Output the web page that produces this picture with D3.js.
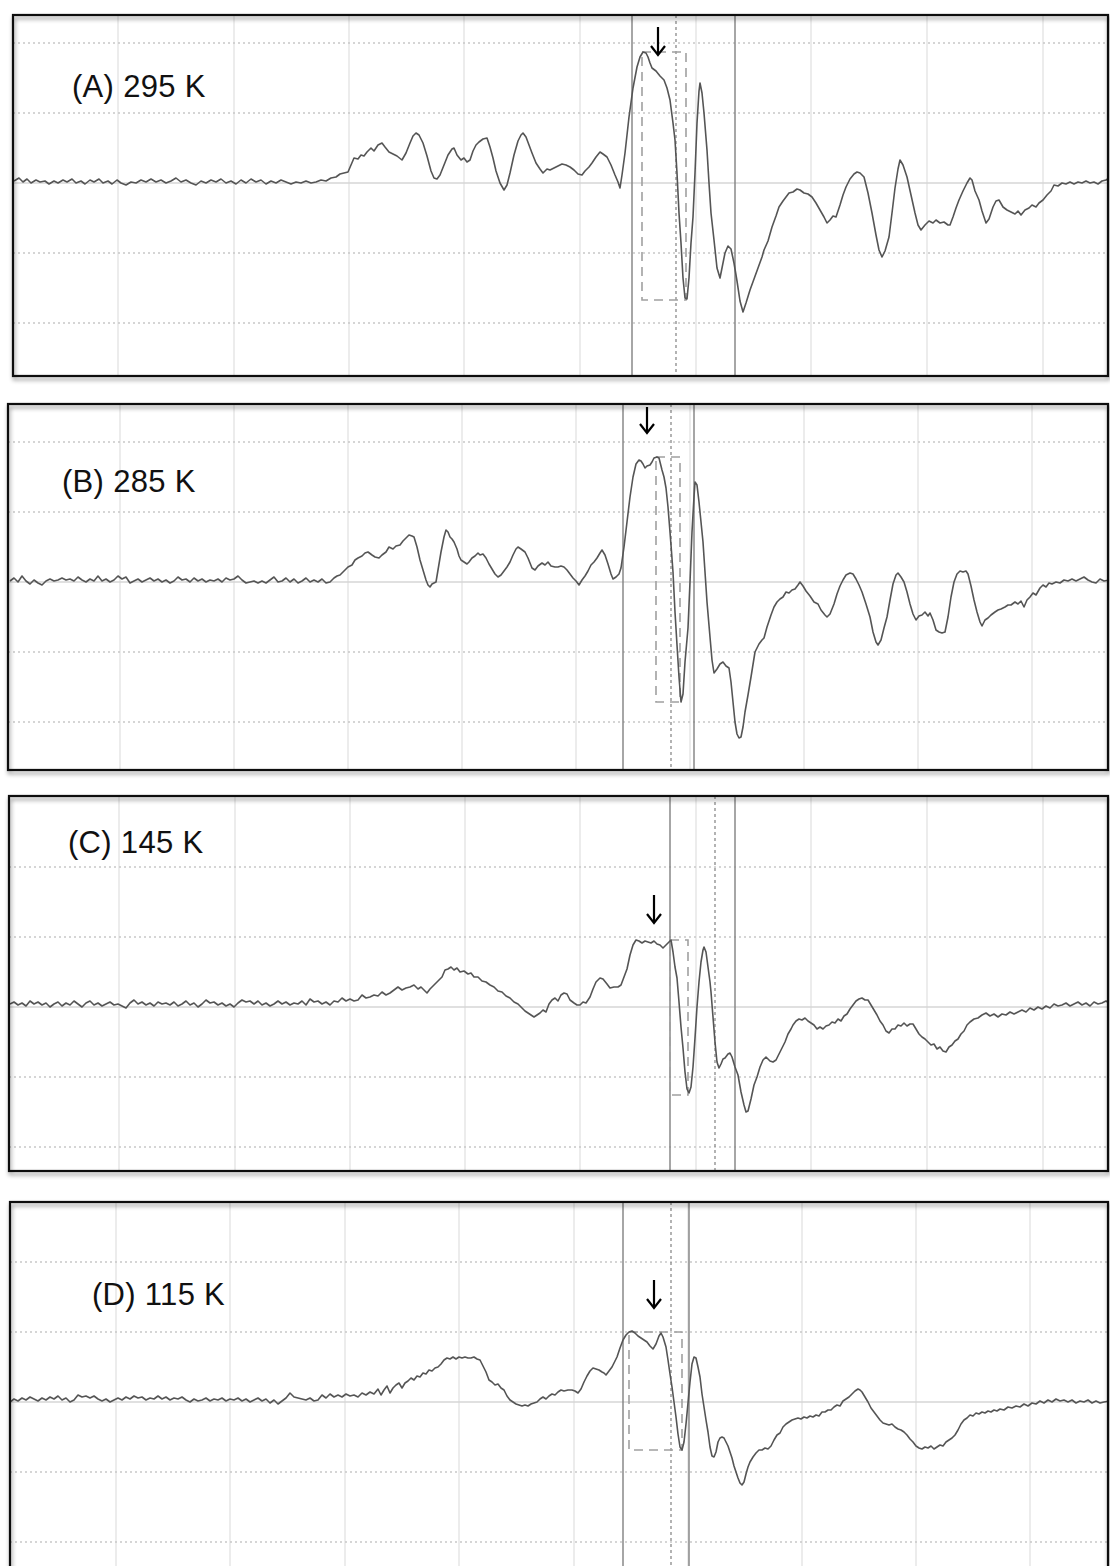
<!DOCTYPE html>
<html>
<head>
<meta charset="utf-8">
<script src="https://cdn.jsdelivr.net/npm/d3@7"></script>
<style>
  html, body { margin: 0; padding: 0; background: #fff; }
  svg { display: block; }
  .label { font-family: "Liberation Sans", Arial, sans-serif; font-size: 31px; fill: #111; letter-spacing: 0.3px; }
</style>
</head>
<body>
<svg id="chart" width="1110" height="1566"></svg>
<script>
// panel labels
const labels = ["(A) 295 K", "(B) 285 K", "(C) 145 K", "(D) 115 K"];

// spectra: [field channel, signal (a.u.)]
const traceA = [[14,2],[19,5],[23,1],[27,4],[31,0],[36,3],[40,1],[45,2],[49,-1],[54,2],[58,0],[63,3],[67,1],[72,4],[76,0],[81,2],[85,-1],[90,3],[94,1],[99,4],[103,0],[108,2],[112,-1],[117,3],[121,0],[126,-2],[131,1],[136,0],[141,3],[146,1],[151,4],[156,1],[161,3],[166,0],[171,2],[176,5],[181,1],[186,3],[191,0],[196,-2],[201,2],[206,0],[211,3],[216,1],[221,4],[226,0],[231,2],[236,-1],[241,3],[246,0],[251,4],[256,1],[261,3],[266,-1],[271,2],[276,0],[281,3],[286,1],[291,-1],[296,1],[301,0],[306,2],[311,0],[316,1],[321,3],[326,2],[331,5],[336,6],
  [340,9],[344,10],[348,11],[351,18],[354,25],[358,24],[361,28],[364,27],[367,31],[371,35],[374,32],[378,38],[382,40],[385,36],[389,31],[393,29],[397,27],[402,23],[406,30],[410,40],[413,47],[416,50],[419,48],[423,40],[427,27],[431,12],[434,5],[437,4],[440,8],[444,18],[448,28],[452,34],[454,35],[457,28],[461,23],[464,25],[467,21],[470,23],[473,32],[476,38],[479,41],[483,44],[487,45],[490,36],[493,25],[496,12],[500,0],[504,-7],[507,-2],[510,10],[514,28],[518,42],[521,48],[523,50],[526,46],[529,38],[532,30],[536,20],[540,14],[543,10],[547,14],[550,13],[554,15],[558,17],[562,19],[566,18],[570,16],[574,13],[578,9],[582,8],[585,12],[589,16],[592,20],[596,26],[600,31],[603,29],[607,26],[611,18],[615,8],[618,1],[620,-5],[622,8],[625,30],[629,66],[633,95],[637,116],[640,126],[643,131],[646,130],[648,126],[650,120],[652,115],[656,112],[660,107],[664,103],[667,95],[670,83],[673,60],[675,43],[677,10],[679,-30],[681,-60],[683,-95],[685,-115],[687,-116],[689,-95],[691,-60],[693,-34],[695,10],[697,60],[699,92],[700,100],[702,90],[704,70],[707,33],[709,0],[711,-30],[714,-57],[717,-85],[720,-95],[722,-85],[725,-70],[728,-63],[731,-66],[734,-80],[737,-98],[740,-118],[743,-129],[746,-120],[750,-107],[754,-96],[758,-85],[762,-74],[764,-67],[768,-58],[772,-44],[776,-33],[779,-24],[783,-18],[786,-14],[789,-10],[793,-9],[797,-6],[800,-7],[804,-10],[808,-11],[812,-14],[816,-20],[820,-27],[824,-34],[827,-40],[830,-37],[833,-33],[836,-34],[840,-22],[843,-12],[846,-4],[850,4],[854,9],[857,11],[860,10],[864,6],[868,-10],[872,-30],[876,-52],[879,-67],[882,-74],[885,-68],[889,-54],[892,-30],[895,-5],[898,14],[900,23],[903,18],[907,6],[911,-12],[915,-30],[918,-42],[921,-47],[925,-42],[929,-38],[933,-40],[936,-37],[940,-40],[944,-39],[948,-42],[950,-42],[953,-34],[956,-25],[959,-17],[963,-8],[967,0],[970,5],[972,3],[975,-8],[979,-17],[982,-28],[986,-40],[989,-36],[993,-24],[996,-18],[999,-17],[1003,-24],[1007,-27],[1011,-29],[1015,-31],[1018,-28],[1021,-32],[1025,-27],[1029,-25],[1032,-22],[1036,-24],[1039,-20],[1043,-17],[1047,-12],[1051,-8],[1054,-2],[1058,-3],[1062,0],[1066,-1],[1070,1],[1074,-1],[1078,1],[1082,0],[1086,2],[1090,0],[1094,1],[1098,-1],[1102,2],[1106,3],[1109,5]];

const traceB = [[10,1],[14,4],[18,0],[22,6],[26,1],[30,-2],[34,2],[38,-1],[42,-3],[46,1],[50,3],[54,1],[58,2],[62,4],[66,2],[70,3],[74,1],[78,5],[82,2],[86,0],[90,3],[94,1],[98,6],[102,1],[106,3],[110,0],[114,2],[118,6],[122,3],[126,5],[130,-1],[134,1],[138,3],[142,0],[146,2],[150,4],[154,1],[158,3],[162,0],[166,2],[170,-1],[174,1],[178,5],[182,2],[186,3],[190,0],[194,4],[198,1],[202,3],[206,0],[210,2],[214,1],[218,3],[222,0],[226,4],[230,2],[234,3],[238,6],[242,2],[246,-1],[250,0],[254,1],[258,-1],[262,1],[266,-1],[270,2],[274,5],[278,0],[282,1],[286,4],[290,0],[294,3],[298,-1],[302,1],[306,4],[310,0],[314,2],[318,0],[322,3],[326,-1],[330,0],[334,4],[337,6],
  [340,7],[344,11],[348,15],[352,17],[355,22],[358,24],[362,26],[365,29],[368,30],[372,27],[375,25],[379,24],[382,27],[386,30],[389,35],[393,33],[396,36],[400,37],[403,41],[406,44],[409,47],[412,46],[414,45],[417,35],[420,22],[423,12],[426,2],[428,-3],[430,-5],[432,-2],[434,-1],[436,0],[438,12],[441,30],[444,45],[446,52],[448,50],[450,45],[452,43],[454,40],[457,33],[459,26],[461,22],[464,20],[467,18],[469,20],[472,24],[475,26],[478,29],[480,27],[483,28],[486,24],[489,18],[492,13],[495,8],[498,5],[501,7],[504,11],[507,15],[510,20],[513,27],[516,33],[518,35],[521,33],[525,30],[528,24],[532,14],[535,12],[538,16],[542,19],[545,17],[548,20],[551,16],[555,15],
  [558,15],[561,16],[564,15],[567,12],[570,8],[573,4],[576,1],[579,-3],[582,2],[585,6],[588,11],[591,17],[594,20],[597,24],[600,29],[602,32],[605,27],[608,18],[611,8],[613,3],[616,5],[619,8],[621,14],[624,35],[627,60],[630,85],[633,105],[636,118],[639,122],[641,121],[643,118],[645,114],[647,116],[650,117],[652,120],[654,124],[657,125],[659,124],[662,112],[664,105],[666,94],[668,75],[670,50],[671,37],[673,10],[675,-30],[677,-63],[679,-95],[681,-120],[683,-112],[685,-80],[688,-46],[690,0],[692,50],[694,85],[695,100],[697,97],[699,80],[700,70],[703,40],[705,10],[707,-20],[710,-55],[712,-78],[714,-91],[717,-87],[720,-82],[723,-80],[726,-84],[729,-86],[731,-100],[733,-120],[735,-140],[737,-152],[739,-156],[741,-155],[743,-145],[745,-130],[748,-113],[751,-95],[755,-70],[759,-62],[762,-58],[764,-56],[767,-45],[771,-33],[774,-25],[777,-20],[780,-17],[783,-15],[786,-10],[789,-11],[792,-8],[795,-7],[798,-3],[800,0],[803,-4],[806,-9],[810,-14],[814,-20],[818,-22],[821,-28],[825,-33],[827,-35],[830,-32],[834,-22],[837,-12],[840,-4],[843,2],[846,7],[850,9],[853,8],[856,3],[859,-3],[862,-10],[866,-22],[870,-35],[873,-50],[876,-60],[878,-63],[881,-58],[884,-46],[887,-35],[890,-18],[893,-2],[896,7],[898,9],[901,5],[904,0],[907,-10],[910,-22],[913,-32],[916,-38],[919,-34],[922,-33],[925,-30],[928,-34],[930,-31],[933,-38],[936,-48],[939,-50],[942,-51],[945,-50],[948,-35],[951,-15],[954,0],[957,8],[960,11],[963,10],[966,11],[968,8],[971,-4],[974,-18],[977,-30],[980,-40],[982,-44],[985,-38],[988,-36],[991,-33],[995,-30],[998,-28],[1001,-27],[1005,-25],[1008,-23],[1011,-23],[1015,-20],[1018,-22],[1021,-19],[1024,-25],[1027,-18],[1030,-15],[1033,-11],[1036,-13],[1040,-6],[1043,-3],[1046,-5],[1049,-1],[1052,-2],[1056,0],[1060,-1],[1064,2],[1068,1],[1072,3],[1076,1],[1080,3],[1084,5],[1088,2],[1092,0],[1096,-1],[1100,3],[1104,1],[1109,2]];

const traceC = [[10,3],[14,5],[18,2],[22,4],[26,1],[30,6],[34,3],[38,5],[42,2],[46,4],[50,0],[54,3],[58,5],[62,1],[66,4],[70,2],[74,6],[78,3],[82,0],[86,4],[90,6],[94,2],[98,4],[102,1],[106,3],[110,5],[114,2],[118,3],[122,1],[126,-1],[130,4],[134,7],[138,3],[142,5],[146,2],[150,4],[154,1],[158,5],[162,3],[166,4],[170,2],[174,5],[178,1],[182,3],[186,6],[190,2],[194,4],[198,0],[202,3],[206,7],[210,4],[214,5],[218,2],[222,4],[226,1],[230,3],[234,0],[238,4],[242,7],[246,5],[250,6],[254,3],[258,6],[262,2],[266,4],[270,1],[274,3],[278,6],[282,3],[286,5],[290,2],[294,4],[298,3],[302,6],[306,2],[310,8],[314,5],[318,6],[322,3],[326,5],[330,2],[334,6],[338,5],[342,9],[346,6],[350,8],[354,6],[358,7],[362,12],[366,9],[370,10],[374,12],[378,11],[382,15],[386,12],[390,14],[394,17],[398,20],[402,17],[406,19],[410,20],[414,22],[418,18],[421,20],[424,17],[427,14],[430,18],[434,22],[438,26],[442,30],[445,37],[448,38],[451,40],[454,37],[457,39],[460,35],[464,36],[468,33],[471,34],[474,30],[478,30],[482,26],[486,25],[490,22],[494,20],[498,16],[502,15],[506,11],[510,9],[514,5],[518,3],[521,0],[525,-4],[528,-6],[531,-8],[534,-10],[537,-8],[540,-6],[543,-3],[546,-5],[549,3],[552,7],[555,9],[558,6],[561,12],[564,14],[567,13],[570,7],[574,4],[577,2],[580,2],[583,5],[586,4],[590,10],[593,18],[596,25],[600,29],[603,28],[607,23],[610,19],[614,20],[618,20],[621,22],[624,30],[627,38],[630,52],[633,62],[636,67],[639,66],[642,64],[645,66],[648,65],[651,64],[654,66],[657,63],[660,62],[663,59],[666,62],[669,65],[671,67],[673,55],[675,40],[677,29],[679,5],[681,-20],[683,-41],[685,-65],[687,-82],[689,-86],[691,-80],[693,-60],[695,-31],[697,0],[699,25],[701,45],[703,57],[704,60],[706,55],[708,40],[710,25],[711,15],[713,-10],[715,-35],[717,-55],[719,-61],[721,-57],[723,-52],[725,-51],[728,-47],[730,-46],[732,-50],[735,-60],[738,-68],[741,-85],[744,-98],[746,-105],[748,-104],[751,-92],[754,-78],[757,-70],[760,-60],[763,-53],[766,-50],[770,-54],[773,-55],[776,-53],[779,-47],[782,-41],[785,-35],[788,-27],[791,-22],[793,-18],[796,-14],[799,-12],[802,-13],[805,-11],[808,-14],[811,-16],[814,-18],[817,-22],[820,-20],[823,-22],[826,-19],[829,-18],[832,-15],[835,-16],[838,-12],[841,-14],[844,-9],[847,-7],[850,-2],[853,2],[856,6],[859,8],[862,9],[865,7],[868,7],[871,2],[874,-3],[877,-8],[880,-14],[883,-18],[886,-24],[889,-26],[892,-22],[895,-22],[898,-18],[901,-19],[904,-16],[907,-19],[910,-17],[913,-17],[916,-22],[919,-27],[922,-30],[925,-32],[928,-35],[931,-38],[934,-37],[937,-42],[940,-40],[943,-44],[946,-45],[949,-40],[952,-38],[955,-34],[958,-32],[961,-27],[964,-24],[967,-18],[970,-15],[974,-12],[978,-11],[982,-8],[986,-6],[990,-9],[994,-7],[998,-10],[1002,-7],[1006,-8],[1010,-5],[1014,-7],[1018,-5],[1022,-3],[1026,-5],[1030,-1],[1034,-3],[1038,0],[1042,-2],[1046,1],[1050,-1],[1054,3],[1058,1],[1062,2],[1066,4],[1070,1],[1074,3],[1078,5],[1082,2],[1086,4],[1090,1],[1094,5],[1098,3],[1102,4],[1106,6],[1109,4]];

const traceD = [[10,0],[14,3],[18,1],[22,4],[26,2],[30,5],[34,3],[38,1],[42,4],[46,2],[50,5],[54,3],[58,6],[62,2],[66,4],[70,0],[74,2],[78,7],[82,5],[86,6],[90,4],[94,6],[98,3],[102,1],[106,3],[110,0],[114,2],[118,4],[122,2],[126,5],[130,3],[134,6],[138,4],[142,5],[146,2],[150,4],[154,3],[158,6],[162,3],[166,5],[170,2],[174,4],[178,3],[182,5],[186,2],[190,0],[194,3],[198,1],[202,2],[206,4],[210,1],[214,3],[218,2],[222,4],[226,1],[230,3],[234,2],[238,4],[242,1],[246,3],[250,0],[254,2],[258,4],[262,1],[266,3],[270,-1],[274,2],[278,-2],[282,1],[286,4],[290,9],[294,5],[298,4],[302,3],[306,2],[310,4],[314,1],[318,2],[322,7],[326,4],[330,8],[334,5],[338,7],[342,5],[346,8],[350,6],[354,7],[358,5],[362,9],[366,7],[370,10],[374,8],[378,13],[381,7],[384,12],[387,16],[390,9],[393,14],[396,17],[399,19],[402,14],[405,19],[408,21],[411,24],[414,22],[417,26],[420,25],[423,29],[426,28],[429,32],[432,31],[435,34],[438,35],[441,38],[444,42],[447,44],[450,43],[453,45],[456,43],[459,45],[462,44],[465,45],[468,44],[471,44],[474,45],[477,43],[480,42],[483,36],[486,30],[489,22],[492,20],[495,17],[498,18],[501,14],[504,12],[507,6],[510,2],[513,0],[516,-2],[519,-3],[522,-4],[525,-3],[528,-4],[531,-2],[534,-1],[537,0],[540,3],[543,5],[546,3],[549,6],[552,8],[555,7],[558,10],[561,12],[564,11],[568,12],[572,12],[575,11],[578,9],[581,13],[584,20],[587,26],[590,31],[593,34],[596,33],[599,32],[602,30],[604,29],[606,27],[609,31],[612,35],[614,39],[617,45],[620,54],[623,62],[626,67],[629,70],[632,71],[635,69],[638,66],[641,64],[644,62],[647,60],[650,56],[653,53],[656,58],[659,66],[661,69],[663,65],[666,55],[668,42],[670,28],[672,15],[674,0],[676,-15],[678,-32],[680,-45],[682,-48],[684,-40],[686,-22],[688,-1],[690,20],[692,38],[694,45],[696,44],[698,35],[700,25],[702,8],[704,-5],[706,-18],[708,-30],[710,-45],[712,-54],[714,-55],[716,-50],[718,-40],[720,-36],[722,-35],[724,-36],[726,-40],[728,-44],[730,-50],[732,-56],[734,-64],[736,-70],[738,-76],[740,-81],[742,-83],[744,-80],[746,-72],[748,-65],[750,-60],[753,-55],[756,-51],[759,-48],[762,-48],[765,-46],[768,-47],[771,-44],[774,-38],[777,-33],[780,-31],[783,-25],[786,-22],[789,-20],[792,-18],[795,-17],[798,-16],[801,-17],[804,-15],[807,-16],[810,-14],[813,-15],[816,-13],[819,-14],[822,-10],[825,-10],[828,-8],[831,-8],[834,-5],[837,-3],[840,-4],[843,1],[846,3],[849,5],[852,8],[855,11],[858,13],[860,12],[862,10],[865,5],[868,0],[871,-6],[874,-10],[877,-14],[880,-18],[883,-21],[886,-22],[889,-23],[892,-22],[895,-25],[898,-27],[901,-28],[904,-30],[907,-33],[910,-37],[913,-40],[916,-44],[919,-46],[922,-47],[925,-45],[928,-46],[931,-44],[934,-47],[937,-45],[940,-43],[943,-44],[946,-40],[949,-38],[952,-36],[955,-33],[958,-28],[961,-22],[964,-18],[967,-16],[970,-13],[973,-14],[976,-11],[979,-12],[982,-10],[985,-11],[988,-9],[991,-10],[994,-8],[997,-9],[1000,-7],[1004,-8],[1008,-5],[1012,-6],[1016,-4],[1020,-5],[1024,-2],[1028,-4],[1032,-1],[1036,-2],[1040,1],[1044,-1],[1048,2],[1052,0],[1056,3],[1060,1],[1064,2],[1068,0],[1072,2],[1076,-1],[1080,1],[1084,0],[1088,2],[1092,-1],[1096,1],[1100,-1],[1104,0],[1109,1]];

// grid ticks (field channels / signal units)
const gridXA = [118, 234, 349, 464, 580, 696, 811, 927, 1043];
const gridXB = [120, 234, 348, 462, 576, 690, 804, 918, 1032];
const gridXC = [119, 235, 350, 465, 580, 696, 811, 927, 1043];
const gridXD = [116, 230, 345, 459, 574, 688, 802, 916, 1030];
const gridY = [-140, -70, 70, 140];

// cursor lines, integration box and arrow for each panel
const solidCursors = [[632, 735], [623, 694], [670, 735], [623, 689]];
const dottedCursors = [676, 671, 715, 671];
const boxX = [[642, 686], [656, 680], [670, 688], [629, 682]];
const boxY = [[131, -117], [125, -120], [67, -88], [70, -48]];
const arrowX = [658, 647, 654, 654];
const arrowY = [[156, 128], [175, 149], [112, 84], [122, 94]];

// page layout of the four frames
const frames = [
  { left: 13, right: 1108, top: 15, bottom: 376, base: 183, lx: 72, ly: 97 },
  { left: 8, right: 1108, top: 404, bottom: 770, base: 582, lx: 62, ly: 492 },
  { left: 9, right: 1108, top: 796, bottom: 1171, base: 1007, lx: 68, ly: 853 },
  { left: 10, right: 1108, top: 1202, bottom: 1620, base: 1402, lx: 92, ly: 1305 }
];

const traces = [traceA, traceB, traceC, traceD];
const gridX = [gridXA, gridXB, gridXC, gridXD];

const svg = d3.select("#chart");
const defs = svg.append("defs");
const shadow = defs.append("filter").attr("id", "shadow")
  .attr("x", "-5%").attr("y", "-5%").attr("width", "110%").attr("height", "110%");
shadow.append("feDropShadow").attr("dx", 1).attr("dy", 3).attr("stdDeviation", 2)
  .attr("flood-color", "#000").attr("flood-opacity", 0.45);

const x = d3.scaleLinear().domain([0, 1110]).range([0, 1110]);

frames.forEach((f, i) => {
  const y = d3.scaleLinear().domain([0, 100]).range([f.base, f.base - 100]);
  const g = svg.append("g");

  defs.append("clipPath").attr("id", "clip" + i)
    .append("rect").attr("x", f.left).attr("y", f.top)
    .attr("width", f.right - f.left).attr("height", f.bottom - f.top);

  const inner = g.append("g").attr("clip-path", `url(#clip${i})`);

  // vertical grid
  inner.selectAll(".gx").data(gridX[i]).enter().append("line")
    .attr("x1", d => x(d)).attr("x2", d => x(d))
    .attr("y1", f.top).attr("y2", f.bottom)
    .attr("stroke", "#ececec").attr("stroke-width", 2);

  // horizontal dotted grid
  inner.selectAll(".gy").data(gridY).enter().append("line")
    .attr("x1", f.left).attr("x2", f.right)
    .attr("y1", d => y(d)).attr("y2", d => y(d))
    .attr("stroke", "#c8c8c8").attr("stroke-width", 1.3)
    .attr("stroke-dasharray", "2,3");

  // zero line
  inner.append("line")
    .attr("x1", f.left).attr("x2", f.right)
    .attr("y1", y(0)).attr("y2", y(0))
    .attr("stroke", "#d6d6d6").attr("stroke-width", 1.5);

  // cursors
  inner.selectAll(".cur").data(solidCursors[i]).enter().append("line")
    .attr("x1", d => x(d)).attr("x2", d => x(d))
    .attr("y1", f.top).attr("y2", f.bottom)
    .attr("stroke", "#808080").attr("stroke-width", 1.4);
  inner.append("line")
    .attr("x1", x(dottedCursors[i])).attr("x2", x(dottedCursors[i]))
    .attr("y1", f.top).attr("y2", f.bottom)
    .attr("stroke", "#8a8a8a").attr("stroke-width", 1.3)
    .attr("stroke-dasharray", "3,3");

  // integration box
  inner.append("rect")
    .attr("x", x(boxX[i][0])).attr("y", y(boxY[i][0]))
    .attr("width", x(boxX[i][1]) - x(boxX[i][0]))
    .attr("height", y(boxY[i][1]) - y(boxY[i][0]))
    .attr("fill", "none").attr("stroke", "#a0a0a0").attr("stroke-width", 1.6)
    .attr("stroke-dasharray", "9,6");

  // spectrum
  const line = d3.line().x(d => x(d[0])).y(d => y(d[1]));
  inner.append("path").datum(traces[i])
    .attr("d", line)
    .attr("fill", "none").attr("stroke", "#555")
    .attr("stroke-width", 1.6).attr("stroke-linejoin", "round");

  // arrow
  const ax = x(arrowX[i]), ay0 = y(arrowY[i][0]), ay1 = y(arrowY[i][1]);
  g.append("line").attr("x1", ax).attr("x2", ax).attr("y1", ay0).attr("y2", ay1 - 1)
    .attr("stroke", "#000").attr("stroke-width", 2.2);
  g.append("polyline")
    .attr("points", `${ax - 7},${ay1 - 9} ${ax},${ay1} ${ax + 7},${ay1 - 9}`)
    .attr("fill", "none").attr("stroke", "#000").attr("stroke-width", 2.2);

  // label
  g.append("text").attr("class", "label")
    .attr("x", f.lx).attr("y", f.ly).text(labels[i]);

  // frame
  g.append("rect")
    .attr("x", f.left).attr("y", f.top)
    .attr("width", f.right - f.left).attr("height", f.bottom - f.top)
    .attr("fill", "none").attr("stroke", "#111").attr("stroke-width", 2.2)
    .attr("filter", "url(#shadow)");
});
</script>
</body>
</html>
